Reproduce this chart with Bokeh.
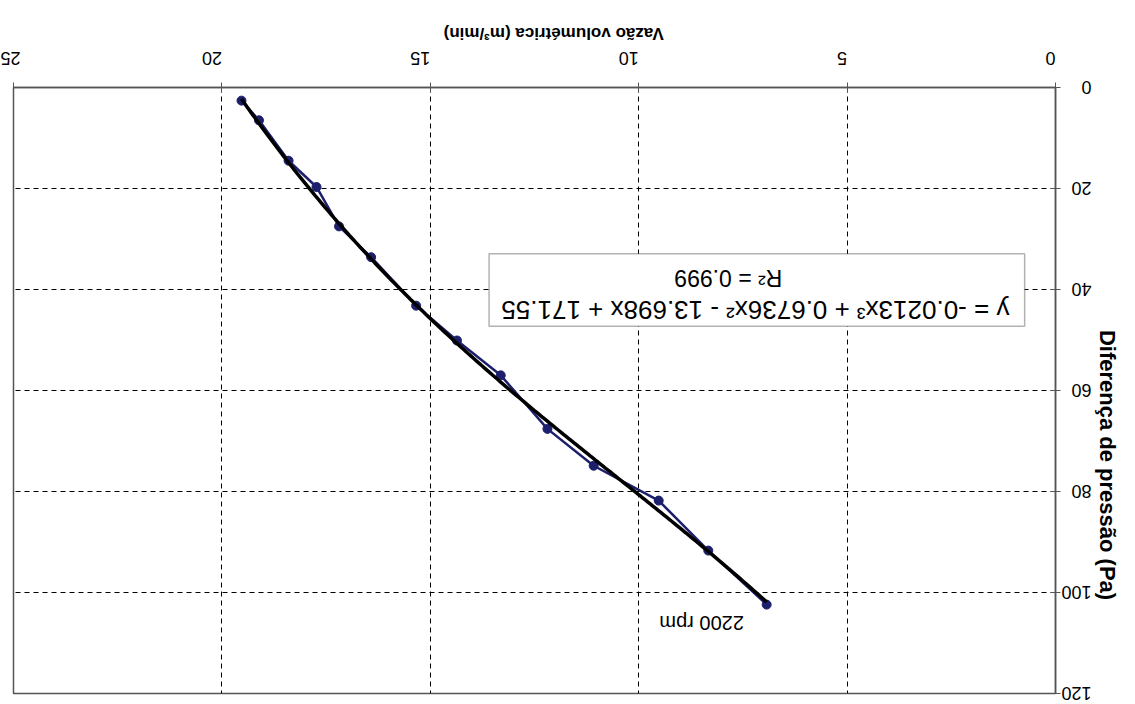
import math
import numpy as np
from bokeh.plotting import figure
from bokeh.models import Range1d, Label, BoxAnnotation, FixedTicker, LinearAxis
from bokeh.embed import file_html
from bokeh.resources import INLINE

# data
flow = [19.53, 19.11, 18.40, 17.73, 17.19, 16.42, 15.34, 14.36, 13.31, 12.19, 11.08, 9.52, 8.33, 6.93]
dp = [2.6, 6.5, 14.5, 19.7, 27.5, 33.6, 43.2, 50.1, 57.0, 67.6, 74.9, 81.8, 91.7, 102.4]
coef = [-0.0213, 0.6736, -13.698, 171.55]
x_ticks = [0, 5, 10, 15, 20, 25]
y_ticks = [0, 20, 40, 60, 80, 100, 120]
series_label = "2200 rpm"
eq_text = "y = -0.0213x³ + 0.6736x² - 13.698x + 171.55"
r2_text = "R² = 0.999"
x_title = "Vazão volumétrica (m³/min)"
y_title = "Diferença de pressão (Pa)"

FONT = "Liberation Sans"

p = figure(width=1135, height=704, output_backend="svg", toolbar_location=None,
           x_range=Range1d(25, 0), y_range=Range1d(120, 0),
           x_axis_location="above", y_axis_location="right",
           min_border_left=13, min_border_right=77, min_border_top=87, min_border_bottom=11)
p.background_fill_color = "white"
p.border_fill_color = "white"
p.outline_line_color = "#555555"
p.outline_line_width = 1.5

for ax, ticks in ((p.xaxis[0], x_ticks), (p.yaxis[0], y_ticks)):
    ax.ticker = FixedTicker(ticks=ticks)
    ax.major_label_orientation = math.pi
    ax.major_label_text_font = FONT
    ax.major_label_text_font_size = "18px"
    ax.major_label_text_color = "black"
    ax.axis_line_color = "#555555"
    ax.axis_line_width = 1.5
    ax.major_tick_in = 5
    ax.major_tick_out = 5
    ax.major_tick_line_color = "#555555"
    ax.minor_tick_line_color = None
p.xaxis[0].major_label_standoff = 24
p.yaxis[0].major_label_standoff = 31

# title axes (upside-down titles)
xt = LinearAxis(ticker=FixedTicker(ticks=[9.4]), major_label_overrides={9.4: x_title},
                major_label_orientation=math.pi, axis_line_color=None,
                major_tick_line_color=None, minor_tick_line_color=None,
                major_tick_in=0, major_tick_out=0, major_label_standoff=9,
                major_label_text_font=FONT, major_label_text_font_size="17px",
                major_label_text_font_style="bold", major_label_text_color="black")
p.add_layout(xt, "above")
yt = LinearAxis(ticker=FixedTicker(ticks=[48]), major_label_overrides={48: y_title},
                major_label_orientation=-math.pi / 2, axis_line_color=None,
                major_tick_line_color=None, minor_tick_line_color=None,
                major_tick_in=0, major_tick_out=0, major_label_standoff=-17,
                major_label_text_font=FONT, major_label_text_font_size="22px",
                major_label_text_font_style="bold", major_label_text_color="black")
p.add_layout(yt, "right")

p.xgrid.ticker = FixedTicker(ticks=x_ticks[1:-1])
p.ygrid.ticker = FixedTicker(ticks=y_ticks[1:-1])
for g in (p.xgrid[0], p.ygrid[0]):
    g.grid_line_color = "black"
    g.grid_line_dash = "5 4"
    g.grid_line_width = 1

# data series
p.line(flow, dp, line_color="#1c1f6b", line_width=2.5)
p.scatter(flow, dp, size=9, fill_color="#1c1f6b", line_color="#1c1f6b")

# trend line from equation
xs = np.linspace(min(flow), max(flow), 200)
ys = np.polyval(coef, xs)
p.line(xs, ys, line_color="black", line_width=3.5)

# series label near last point
p.add_layout(Label(x=flow[-1], y=dp[-1], x_offset=-65, y_offset=-18, text=series_label,
                   angle=math.pi, text_align="center", text_baseline="middle",
                   text_font=FONT, text_font_size="20px", text_color="black"))

# equation box
p.add_layout(BoxAnnotation(left=13.59, right=0.74, top=32.9, bottom=47.3,
                           fill_color="white", fill_alpha=1.0,
                           line_color="black", line_width=1.5))
p.add_layout(Label(x=7.2, y=44.1, text=eq_text, angle=math.pi,
                   text_align="center", text_baseline="middle",
                   text_font=FONT, text_font_size="26px", text_color="black"))
p.add_layout(Label(x=7.85, y=37.8, text=r2_text, angle=math.pi,
                   text_align="center", text_baseline="middle",
                   text_font=FONT, text_font_size="23px", text_color="black"))

open("out.html", "w").write(file_html(p, INLINE))
